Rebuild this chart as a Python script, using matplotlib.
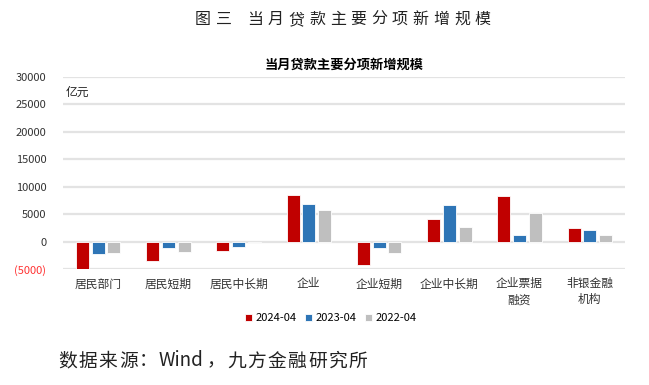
import matplotlib.pyplot as plt
import numpy as np

plt.rcParams['font.family'] = ['Noto Sans CJK SC', 'DejaVu Sans']

# 分项类别及三期数据（亿元）
categories = ['居民部门', '居民短期', '居民中长期', '企业', '企业短期', '企业中长期', '企业票据\n融资', '非银金融\n机构']
v2024 = [-5100, -3480, -1650, 8540, -4320, 4070, 8400, 2530]
v2023 = [-2260, -1220, -1040, 6830, -1235, 6600, 1235, 2100]
v2022 = [-2100, -1830, -300, 5730, -1975, 2590, 5185, 1300]
series_names = ['2024-04', '2023-04', '2022-04']
yticks = [-5000, 0, 5000, 10000, 15000, 20000, 25000, 30000]

colors = ['#C00000', '#2E75B6', '#BFBFBF']

W, H = 649, 385
fig = plt.figure(figsize=(W / 100, H / 100), dpi=100)
ax = fig.add_axes([0.097, 0.301, 0.866, 0.499])

x = np.arange(len(categories))
w = 0.185
step = 0.225
for i, (vals, name) in enumerate(zip([v2024, v2023, v2022], series_names)):
    ax.bar(x + (i - 1) * step, vals, width=w, color=colors[i], label=name,
           edgecolor='white', linewidth=0.6, zorder=3)

ax.set_xlim(-0.5, len(categories) - 0.5)
ax.set_ylim(-5000, 30000)
ax.set_yticks(yticks)
ax.set_yticklabels(['(5000)' if t < 0 else str(t) for t in yticks], fontsize=8, color='#333333')
ax.get_yticklabels()[0].set_color('#FF3333')
ax.set_xticks(x)
ax.set_xticklabels(categories, fontsize=8.5, color='#333333', linespacing=1.3)
ax.tick_params(length=0, pad=6)
ax.tick_params(axis='y', pad=12)
ax.grid(axis='y', color='#E3E3E3', linewidth=1.6, zorder=0)
for s in ax.spines.values():
    s.set_visible(False)

ax.text(0.005, 0.955, '亿元', transform=ax.transAxes, fontsize=8.5, va='top', color='#222222')
ax.set_title('当月贷款主要分项新增规模', fontsize=9.5, fontweight='bold', pad=6)


# 宽字距文字：逐段放置（像素坐标），pieces = [(文字, 起点x)]
def spaced_text(pieces, yc, size, full):
    for s, x0 in pieces:
        if all(ord(c) < 128 for c in s):
            fig.text(x0 / W, 1 - yc / H, s, fontsize=size, ha='left', va='center', color='#222222')
            continue
        for k, ch in enumerate(s):
            fig.text((x0 + k * full) / W, 1 - yc / H, ch, fontsize=size, ha='left', va='center',
                     color='#222222')


spaced_text([('图三', 195), ('当月贷款主要分项新增规模', 247)], 19.5, 11.5, 20.7)
spaced_text([('数据来源：', 58), ('Wind', 159), ('，', 207), ('九方金融研究所', 227)], 361, 13.5, 20.3)

fig.legend(loc='center', bbox_to_anchor=(0.51, 0.174), ncol=3, frameon=False, fontsize=8,
           handlelength=0.6, handleheight=0.6, handletextpad=0.3, columnspacing=0.8)

fig.savefig('out.png', dpi=100)
